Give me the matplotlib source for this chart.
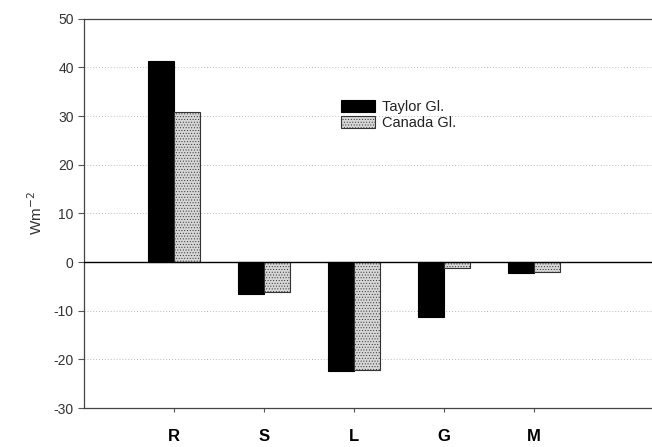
import numpy as np
import matplotlib as mpl
mpl.use('Agg')
import matplotlib.pyplot as plt

plt.rcParams['font.family'] = ['Liberation Sans', 'DejaVu Sans']
plt.rcParams['axes.unicode_minus'] = False
plt.rcParams['hatch.color'] = '#b5b5b5'
plt.rcParams['hatch.linewidth'] = 0.4

# Energy balance components per glacier
categories = ['R', 'S', 'L', 'G', 'M']
taylor = [41.4, -6.5, -22.4, -11.3, -2.3]
canada = [30.8, -6.2, -22.2, -1.2, -2.0]

x = np.arange(len(categories))
w = 0.29

fig = plt.figure(figsize=(6.52, 4.47), dpi=100)
ax = fig.add_axes([0.129, 0.087, 0.871, 0.871])

ax.bar(x - w / 2, taylor, width=w, color='black', edgecolor='black', linewidth=0.8,
       label='Taylor Gl.', zorder=3)
ax.bar(x + w / 2, canada, width=w, color='#d6d6d6', edgecolor='#333333', linewidth=0.8,
       hatch='......', label='Canada Gl.', zorder=3)

ax.axhline(0, color='black', linewidth=1.0, zorder=4)
ax.set_ylim(-30, 50)
ax.set_xlim(-1, 5.31)
ax.set_yticks(np.arange(-30, 51, 10))
ax.yaxis.grid(True, linestyle=(0, (1, 2)), color='#bbbbbb', linewidth=0.7)
ax.set_axisbelow(True)

ax.set_xticks(x)
ax.set_xticklabels(categories, fontsize=12, fontweight='bold')
ax.tick_params(axis='x', length=3, pad=12, color='#555555')
ax.tick_params(axis='y', length=4, labelsize=10, labelcolor='#333333', color='#555555')

for s in ['top', 'left', 'bottom']:
    ax.spines[s].set_color('#444444')
    ax.spines[s].set_linewidth(0.9)
ax.spines['right'].set_visible(False)

ax.set_ylabel('Wm$^{-2}$', fontsize=11, color='#333333', labelpad=6)

ax.legend(loc='upper left', bbox_to_anchor=(0.43, 0.825), frameon=False, fontsize=10.5,
          handlelength=2.3, handleheight=0.9, labelspacing=0.15, handletextpad=0.5,
          labelcolor='#222222')

plt.savefig('out.png', dpi=100)
